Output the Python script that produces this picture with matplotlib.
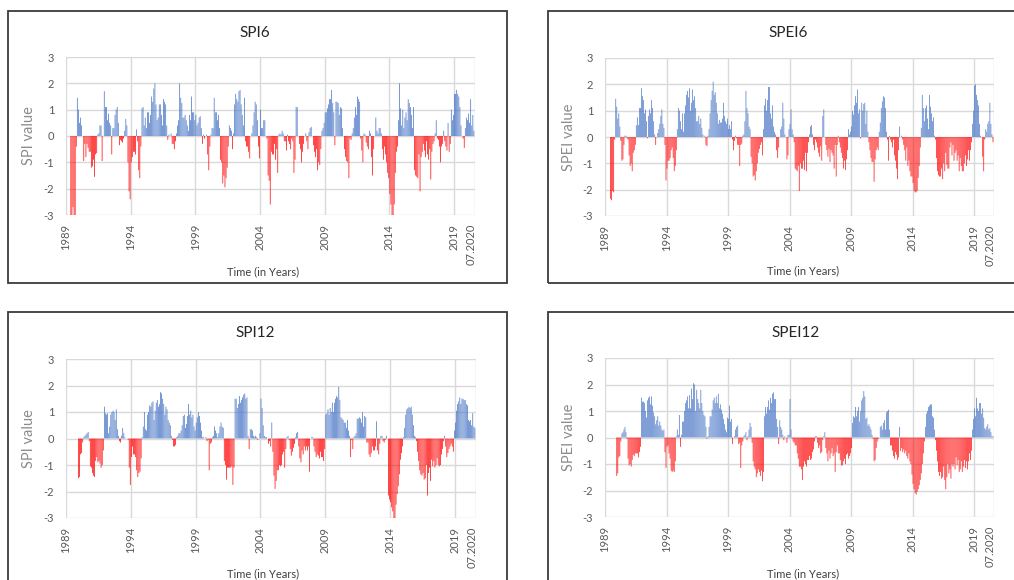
import numpy as np
import matplotlib
matplotlib.use("Agg")
import matplotlib.pyplot as plt
from matplotlib.patches import Rectangle

N = float("nan")

tick_labels = ["1989", "1994", "1999", "2004", "2009", "2014", "2019", "07.2020"]
tick_months = [0, 60, 120, 180, 240, 300, 360, 376]
y_ticks = [-3, -2, -1, 0, 1, 2, 3]

# monthly values, Jan 1989 .. Jul 2020 (one row per year)
spi6 = [
    N, N, N, N, -3.0, -3.0, -2.7, -3.0, -3.0, -0.4, 1.45, 1.0,
    0.5, 0.7, 0.4, 0.0, -0.95, -0.3, -0.8, -0.3, -0.45, -0.6, -0.6, -1.2,
    -1.15, -0.9, -1.55, -0.7, -0.65, 0.05, 0.1, 0.4, 0.4, -0.95, 0.0, 1.7,
    1.1, 1.1, 0.6, 0.85, 0.5, 0.4, -0.7, 0.3, 0.3, 0.8, 1.0, 1.1,
    0.5, -0.35, -0.15, -0.2, -0.25, -0.1, 0.2, 0.65, 0.4, -1.0, -2.1, -2.4,
    -1.0, -0.8, -0.6, -0.6, -0.7, 0.25, -0.2, -1.3, -1.6, -0.4, 1.05, 1.1,
    0.4, 0.7, 0.3, 0.9, 0.9, 0.5, 0.8, 1.5, 1.3, 1.8, 2.0, 1.2,
    0.6, 0.7, 1.2, 1.2, 0.8, 0.4, 1.4, 1.3, 1.2, 0.4, -0.15, 0.05,
    0.0, 0.1, -0.3, -0.3, -0.5, -0.2, 0.1, 0.4, 0.6, 2.0, 1.45, 1.25,
    0.7, 0.7, 0.8, 0.6, 0.4, 0.2, 0.8, 0.6, 1.5, 0.9, 0.9, 0.6,
    0.8, 0.4, 0.5, 0.7, 0.75, 0.3, -0.3, 0.05, -0.1, 0.0, 0.05, -0.7,
    -1.3, -0.4, 0.05, 0.3, 0.3, 1.45, 0.9, 0.9, 0.6, 0.8, 0.3, -0.9,
    -1.0, -1.8, -1.5, -1.95, -1.6, -1.2, -0.4, 0.4, 0.3, 0.2, -0.5, 0.1,
    1.2, 1.6, 1.4, 1.3, 1.7, 1.75, 1.2, 0.8, 0.4, 1.45, -0.2, -0.4,
    -0.4, -0.6, -0.85, 0.0, 0.1, 0.4, 0.9, 1.3, 1.2, 0.6, -0.4, -0.85,
    1.0, 0.3, 0.3, 0.6, 0.6, 0.0, -0.1, -1.5, -1.7, -2.6, -0.6, -0.7,
    -0.7, -0.3, -0.9, -0.5, -1.4, 0.05, 0.1, 0.05, 0.2, 0.1, -0.2, -0.2,
    -0.55, 0.05, -0.2, -0.3, -0.5, -0.1, -0.2, -1.4, -0.9, 1.1, 1.1, 0.0,
    -0.3, -0.5, -1.0, -0.6, -0.3, 0.0, 0.1, -0.2, -0.5, 0.15, 0.3, 0.35,
    0.0, -0.35, -0.6, -0.8, -0.5, -1.3, -1.0, -1.1, -0.5, 0.2, 0.3, 0.5,
    0.9, 0.9, 1.05, 1.2, 1.4, 1.4, 1.75, 1.25, 0.9, -0.35, 1.3, 1.3,
    1.25, 0.8, 1.1, 1.05, 0.3, 0.0, -0.5, -0.8, -0.95, -1.0, -1.6, -0.1,
    -0.15, 0.1, 0.3, 0.7, 1.1, 0.8, 1.5, 1.4, 1.3, -0.1, -0.55, -1.0,
    0.1, 0.05, -0.25, -0.4, -0.5, 0.2, 0.1, -0.8, -1.5, -0.5, 0.0, 0.7,
    0.2, 0.1, 0.3, 0.3, 0.1, -0.5, -0.9, -0.4, -0.7, -1.0, -1.4, -1.6,
    -2.2, -2.6, -3.0, -3.0, -2.6, -1.4, -0.6, -0.4, 0.6, 2.0, 1.05, 0.4,
    1.0, 0.3, 0.7, 0.9, 0.6, 1.4, 1.25, 1.1, 0.8, 0.3, 1.1, -1.3,
    -1.5, -1.55, -1.6, -0.7, -2.1, -0.8, -0.6, -0.3, -0.55, -0.8, -0.2, -0.7,
    -0.9, -0.5, -1.65, -0.6, -0.3, -0.2, 0.1, 0.6, -0.1, -0.15, -0.4, -1.0,
    -0.4, -0.3, 0.2, -0.2, -0.4, -0.55, 0.5, -0.6, -0.3, 1.0, 0.6, 0.8,
    1.6, 1.6, 1.75, 1.6, 1.5, 1.1, 0.4, 0.0, -0.1, -0.45, 0.3, 0.7,
    0.6, 0.85, 0.5, 1.4, 0.4, 0.8, 0.2,
]

spei6 = [
    N, N, N, N, N, -2.35, -2.4, -2.05, -2.1, -0.1, 1.45, 1.15,
    0.7, 0.9, 0.4, -0.15, -0.9, -0.85, -0.3, 0.05, 0.05, -0.05, -0.1, -0.7,
    -1.1, -1.0, -1.3, -0.6, -0.5, -0.3, 0.45, 0.75, 0.45, 1.1, 1.1, 1.85,
    1.55, 1.4, 0.9, 1.05, 0.6, -0.05, 0.8, 1.05, 0.9, 1.4, 1.1, 0.6,
    0.1, -0.3, 0.0, 0.15, 0.3, 0.5, 0.8, 1.05, 0.5, 0.35, -0.3, -1.65,
    -1.2, -0.9, -0.9, -0.8, -0.5, -0.4, -0.8, -1.3, -1.1, -0.5, 0.3, 1.1,
    1.0, 0.6, 0.3, 0.9, 0.2, 0.9, 1.2, 1.6, 1.75, 1.5, 1.85, 1.0,
    1.3, 1.8, 1.4, 1.55, 1.1, 0.6, 0.6, 0.8, 0.5, 0.7, 0.35, 0.1,
    0.0, 0.05, -0.3, -0.35, 0.05, 0.3, 0.9, 1.4, 1.75, 2.1, 1.6, 1.7,
    1.3, 0.9, 0.5, 0.65, 0.55, 0.55, 0.7, 1.3, 0.8, 0.6, 0.5, 0.7,
    0.3, 0.45, 0.3, 0.6, -0.1, -0.5, -0.15, 0.05, -0.05, -0.3, -0.3, -1.1,
    -0.3, -0.25, 0.05, 0.1, 0.6, 1.75, 1.1, 0.9, 0.4, 0.3, -0.75, -1.0,
    -1.5, -1.45, -1.65, -1.3, -1.0, -0.6, -0.45, -0.3, -0.2, -0.7, 0.3, 1.2,
    1.45, 1.0, 1.4, 1.9, 1.9, 0.9, 0.7, 1.2, 0.4, 0.2, 0.1, -0.5,
    -0.8, -0.4, 0.0, 0.3, 0.4, 1.3, 0.7, 0.1, 0.0, -0.85, -0.7, 0.3,
    0.5, 1.05, 0.3, 0.1, -0.2, -1.2, -1.25, -1.3, -1.1, -2.05, -1.0, -1.2,
    -1.2, -0.9, -1.25, -0.6, -1.3, -0.6, -0.2, 0.1, 0.4, 0.45, 0.1, -0.3,
    -0.5, -0.1, -0.2, -0.4, -0.6, -0.75, -0.35, -0.9, 0.8, 1.05, 0.0, -0.3,
    -0.5, -0.75, -0.45, -0.95, -0.5, -0.6, -0.7, -1.2, -0.3, -1.5, -0.3, 0.05,
    -0.2, -0.4, -0.6, -0.8, -1.2, -0.9, -1.25, -0.85, -0.5, 0.3, 0.1, 0.2,
    0.4, 1.0, 0.85, 1.2, 1.55, 1.3, 1.8, 0.9, 1.05, -0.05, 1.3, 1.0,
    1.25, 1.3, 0.5, 1.0, 0.2, -0.2, -0.5, -0.8, -0.95, -0.95, -1.7, -0.85,
    -0.5, -0.4, -0.5, 0.2, 0.55, 1.1, 1.35, 1.55, 1.5, 1.1, 0.2, -0.1,
    -0.9, 0.05, -0.1, -0.2, -0.4, -0.1, -0.7, -0.9, -1.2, -1.6, -0.5, 0.4,
    0.0, 0.05, -0.1, -0.3, -0.5, -0.9, -0.4, -1.1, -0.9, -1.3, -1.5, -1.5,
    -1.75, -2.05, -2.1, -2.1, -2.05, -1.55, -1.1, -0.4, 0.35, 1.6, 1.1, 0.6,
    1.1, 1.2, 0.7, 0.3, 1.6, 1.15, 0.9, 0.6, 0.75, 0.05, -0.1, -0.8,
    -1.3, -1.45, -1.5, -1.5, -1.2, -1.6, -1.0, -1.3, -0.6, -1.05, -1.2, -1.2,
    -0.4, -0.2, -0.7, -0.3, -0.9, -0.6, -0.5, -0.9, -0.7, -1.3, -0.8, -1.1,
    -1.3, -1.3, -1.0, -0.7, -1.1, -0.85, -0.5, -0.9, -0.5, -0.2, 0.5, 1.0,
    1.95, 2.0, 1.6, 1.4, 1.2, 0.5, 0.05, 0.0, -0.75, -1.3, -0.1, 0.3,
    0.2, 0.5, 0.6, 1.3, 0.5, 0.1, -0.2,
]

spi12 = [
    N, N, N, N, N, N, N, N, N, N, N, -1.5,
    -1.45, -0.6, -0.55, -0.15, 0.05, 0.1, 0.15, 0.2, 0.25, -0.1, -1.05, -1.1,
    -1.3, -1.4, -1.45, -0.85, -0.7, -0.9, -0.85, -0.95, -1.1, -1.0, -0.45, 1.2,
    0.95, 0.9, 0.95, 0.2, 0.45, 0.9, 1.0, 1.05, 1.0, 0.7, 1.1, 0.35,
    0.1, -0.1, -0.15, 0.1, 0.4, 0.2, 0.05, 0.0, 0.0, -0.05, -1.1, -1.75,
    -0.7, -0.3, -0.6, -0.6, -0.7, -1.2, -1.45, -1.3, -1.25, -0.75, 0.05, 0.45,
    1.0, 0.35, 0.3, 0.9, 1.0, 1.25, 1.2, 1.35, 1.4, 0.7, 1.05, 1.35,
    1.45, 1.2, 1.3, 1.75, 1.7, 1.5, 1.3, 0.9, 1.2, 1.1, 0.7, 0.6,
    0.5, 0.1, -0.05, -0.3, -0.3, -0.25, 0.05, 0.1, 0.2, 0.2, 0.3, 0.5,
    0.85, 0.9, 0.4, 0.55, 0.85, 1.3, 0.9, 1.05, 0.8, 0.9, 0.45, 0.3,
    0.6, 0.8, 1.0, 0.85, 0.6, 0.3, 0.05, 0.05, 0.0, 0.05, -0.1, -0.05,
    -1.2, -0.2, -0.15, 0.05, 0.1, 0.45, 0.3, 0.2, 0.05, 0.2, 0.45, 0.6,
    0.45, 0.4, -0.85, -1.0, -1.55, -1.1, -1.1, -1.1, -1.1, -1.05, -1.75, -1.1,
    1.5, 1.5, 1.15, 1.3, 1.6, 1.35, 1.45, 1.55, 1.65, 1.7, 1.5, 1.55,
    0.1, -0.4, 0.35, 0.35, 0.3, 0.1, 0.05, 0.1, 0.05, -0.05, 0.0, 0.2,
    1.5, 1.15, 0.5, 0.1, 0.05, 0.05, 0.0, -0.2, -0.1, -0.3, 0.6, -0.5,
    -1.4, -1.9, -1.6, -1.2, -1.2, -1.0, -1.05, -1.0, -0.6, -0.5, -1.1, -0.4,
    0.05, 0.1, -0.05, -0.4, -0.65, -0.5, -0.35, -0.2, 0.05, 0.2, 0.25, -0.3,
    -0.75, -0.9, -0.45, -0.6, -0.3, -0.45, -0.3, -0.45, -0.3, -1.25, 0.0, 0.05,
    0.05, -0.3, -0.5, -0.7, -0.6, -0.65, -0.75, -0.5, -0.7, -0.7, -0.85, -0.4,
    0.9, 0.95, 1.1, 0.9, 1.15, 1.0, 1.35, 1.0, 1.35, 1.5, 1.6, 1.55,
    1.95, 1.45, 0.8, 0.75, 0.7, 0.6, 0.6, 0.4, 0.7, 0.3, 0.1, -0.7,
    -0.05, -0.4, 0.05, 0.1, 0.2, 0.75, 0.75, 0.8, 0.75, 0.6, 1.0, 0.45,
    0.85, 0.8, -0.15, -0.15, -0.6, -0.7, -0.55, -0.3, -0.45, -0.45, -0.3, 0.65,
    -0.45, -0.6, -0.2, 0.1, 0.1, -0.1, -0.15, -0.05, 0.1, 0.0, -2.15, -2.3,
    -2.4, -2.6, -2.75, -3.0, -3.1, -2.5, -2.1, -1.8, -1.35, -0.8, -0.55, -0.3,
    0.05, 0.4, 0.9, 1.1, 1.15, 1.2, 1.15, 1.2, 0.9, 0.5, 0.1, 0.05,
    -0.1, -0.5, -0.85, -1.2, -1.35, -1.4, -1.3, -1.55, -1.5, -1.0, -2.15, -1.3,
    -1.1, -1.6, -0.8, -1.05, -0.85, -1.1, -1.0, -0.75, -1.0, -1.05, -1.0, -0.6,
    -0.4, -0.1, 0.1, -0.3, -0.7, -0.55, -0.4, -0.3, -0.2, -0.3, -0.5, 0.3,
    0.6, 1.05, 1.3, 1.4, 1.55, 1.3, 1.5, 1.5, 1.45, 1.45, 1.3, 1.25,
    0.7, 0.65, 0.7, 0.5, 0.95, 0.45, 0.4,
]

spei12 = [
    N, N, N, N, N, N, N, N, N, N, N, -1.45,
    -1.35, -0.75, -0.7, -0.15, 0.15, 0.2, 0.3, 0.4, 0.2, -0.05, -0.8, -1.05,
    -1.0, -1.1, -0.85, -0.65, -0.7, -0.6, -0.6, -0.6, -0.75, -0.55, -0.35, 1.5,
    1.35, 1.35, 1.3, 1.0, 0.75, 1.4, 1.5, 1.55, 1.25, 1.55, 1.2, 0.95,
    0.8, 0.5, 0.65, 0.8, 0.45, 0.6, 0.45, 0.3, 0.25, 0.3, -0.55, -1.15,
    -0.35, -0.3, -0.6, -0.8, -1.25, -1.3, -1.25, -1.3, -0.9, 0.05, 0.3, 0.1,
    0.85, -0.35, 0.1, 0.6, 0.6, 1.0, 1.3, 1.4, 1.55, 1.1, 1.6, 1.1,
    1.85, 1.45, 2.05, 2.0, 1.0, 1.8, 1.45, 1.3, 1.1, 1.8, 1.3, 1.0,
    0.85, 0.8, 0.4, -0.05, 0.05, 0.4, 0.8, 0.8, 1.05, 1.4, 1.5, 1.3,
    1.55, 1.3, 1.65, 1.1, 1.25, 1.05, 0.9, 0.7, 0.5, 0.3, 0.2, 0.75,
    0.7, 1.2, 0.6, 0.7, -0.25, 0.0, 0.05, 0.3, 0.4, 0.45, -0.25, -0.2,
    -1.15, -0.3, -0.15, 0.05, 0.1, 0.2, -0.1, 0.05, 0.3, 0.55, 0.4, -0.2,
    -0.9, -1.1, -1.2, -1.5, -1.35, -1.2, -1.3, -1.45, -1.25, -1.65, -1.3, 0.8,
    1.15, 0.9, 1.15, 1.4, 1.05, 1.5, 1.3, 1.65, 1.7, 1.45, 1.45, 0.7,
    0.4, -0.25, 0.65, 0.4, 0.3, 0.1, -0.1, 0.05, 0.0, -0.2, 0.1, 0.1,
    1.45, 0.3, -0.05, -0.15, -0.2, -0.3, -0.3, -0.6, -0.8, -1.1, -1.1, -1.2,
    -1.6, -1.1, -0.9, -1.0, -1.1, -0.85, -0.85, -0.7, -0.85, -0.8, -0.55, -0.45,
    -0.15, 0.05, 0.05, -0.2, -0.4, -0.3, -0.6, -0.55, -0.1, 0.05, 0.2, -0.4,
    -0.6, -0.9, -0.5, -0.8, -0.6, -0.4, -0.7, -0.6, -1.3, -0.55, -0.3, -0.6,
    -0.6, -0.85, -1.05, -1.05, -0.9, -0.8, -1.0, -0.65, -0.6, -0.8, -0.7, -0.6,
    -0.4, 0.55, 0.8, 0.75, 1.15, 0.8, 1.0, 1.15, 0.6, 1.0, 1.4, 1.5,
    1.75, 1.55, 0.7, 0.75, 0.45, 0.5, 0.4, 0.3, 0.1, -0.05, -0.9, -0.85,
    -0.4, -0.15, -0.05, 0.0, 0.4, 0.45, 0.3, 0.55, 0.65, 0.3, 0.95, 1.0,
    1.05, 0.3, -0.3, -0.3, -0.5, -0.7, -0.8, -0.55, -0.65, -0.85, -0.75, 0.4,
    -0.5, -0.4, -0.55, -0.45, -0.6, -0.5, -0.7, -0.8, -0.6, -0.9, -1.0, -1.4,
    -1.75, -1.95, -2.1, -2.15, -2.05, -1.95, -1.8, -1.6, -1.35, -1.0, -0.6, -0.15,
    0.4, 0.9, 1.0, 1.15, 1.2, 1.25, 1.25, 0.8, 0.75, 0.3, -0.1, -0.5,
    -0.9, -1.3, -1.45, -1.3, -1.55, -1.5, -1.1, -1.6, -1.95, -1.5, -1.0, -1.35,
    -1.2, -1.55, -1.0, -1.1, -1.0, -1.2, -0.75, -1.05, -0.85, -1.3, -1.2, -0.9,
    -1.3, -1.1, -0.85, -1.15, -0.9, -1.2, -0.9, -0.6, -0.85, -0.5, 0.3, 0.7,
    1.1, 0.8, 1.5, 1.1, 1.0, 1.3, 1.3, 0.9, 1.1, 0.75, 0.35, 0.3,
    0.4, 0.5, 0.3, 0.35, 0.2, 0.05, 0.05,
]

for arr in (spi6, spei6, spi12, spei12):
    assert len(arr) == 379, len(arr)

W, H = 1014, 580
BLUE = "#4472C4"
RED = "#FF0000"
GRID = "#D9D9D9"
FONT = "Lato"

fig = plt.figure(figsize=(W / 100, H / 100), dpi=100)
fig.patch.set_facecolor("white")

panels = [
    dict(data=spi6, title="SPI6", ylabel="SPI value",
         box=(66, 57, 475, 215), frame=(8, 11, 507, 283),
         title_xy=(255, 33), xlab_xy=(263, 272), ylab_x=29),
    dict(data=spei6, title="SPEI6", ylabel="SPEI value",
         box=(605, 58, 994, 216), frame=(548, 11, 1040, 283),
         title_xy=(788, 33), xlab_xy=(803, 271), ylab_x=569),
    dict(data=spi12, title="SPI12", ylabel="SPI value",
         box=(66, 359, 476, 518), frame=(8, 312, 507, 600),
         title_xy=(255, 333), xlab_xy=(263, 574), ylab_x=29),
    dict(data=spei12, title="SPEI12", ylabel="SPEI value",
         box=(605, 358, 994, 517), frame=(548, 312, 1040, 600),
         title_xy=(796, 333), xlab_xy=(803, 574), ylab_x=569),
]

for p in panels:
    fx0, fy0, fx1, fy1 = p["frame"]
    fig.patches.append(Rectangle((fx0 / W, 1 - fy1 / H), (fx1 - fx0) / W, (fy1 - fy0) / H,
                                 transform=fig.transFigure, fill=False,
                                 edgecolor="#3A3A3A", linewidth=1.3, zorder=0))
    x0, y0, x1, y1 = p["box"]
    ax = fig.add_axes([x0 / W, 1 - y1 / H, (x1 - x0) / W, (y1 - y0) / H])
    vals = np.array(p["data"], dtype=float)
    idx = np.arange(len(vals))
    ok = ~np.isnan(vals)
    cols = np.where(vals[ok] >= 0, BLUE, RED)
    bars = ax.bar(idx[ok] + 0.5, vals[ok], width=0.66, color=cols, linewidth=0, zorder=3)
    for b in bars:
        b.set_snap(False)
    n = len(vals) + 0.5
    ax.set_xlim(0, n)
    ax.set_ylim(-3, 3)
    for s in ax.spines.values():
        s.set_visible(False)
    for y in y_ticks:
        ax.axhline(y, color=GRID, lw=1.0, zorder=1)
    for m in tick_months[:-1] + [n]:
        ax.axvline(m, color=GRID, lw=1.0, zorder=1)
    ax.set_yticks(y_ticks)
    ax.set_yticklabels([str(t) for t in y_ticks])
    ax.set_xticks(tick_months)
    ax.set_xticklabels(tick_labels, rotation=90)
    ax.tick_params(axis="both", length=0, colors="#595959", labelsize=8)
    ax.tick_params(axis="y", pad=8.5)
    ax.tick_params(axis="x", pad=6.5)
    for lab in ax.get_xticklabels() + ax.get_yticklabels():
        lab.set_fontfamily(FONT)
    fig.text(p["title_xy"][0] / W, 1 - p["title_xy"][1] / H, p["title"],
             ha="center", va="center", fontsize=11, color="#262626", family=FONT)
    fig.text(p["xlab_xy"][0] / W, 1 - p["xlab_xy"][1] / H, "Time (in Years)",
             ha="center", va="center", fontsize=8, color="#404040", family=FONT)
    fig.text(p["ylab_x"] / W, 1 - ((y0 + y1) / 2) / H, p["ylabel"], rotation=90,
             ha="center", va="center", fontsize=10.5, color="#8C8C8C", family=FONT)

fig.savefig("out.png", dpi=100, facecolor="white")
